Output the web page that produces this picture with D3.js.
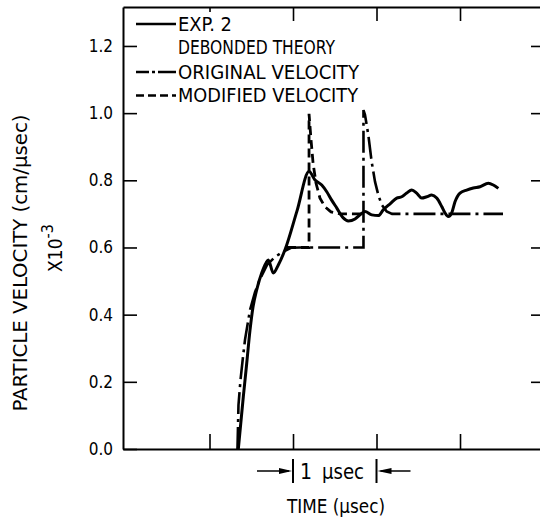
<!DOCTYPE html>
<html><head><meta charset="utf-8">
<script src="https://cdn.jsdelivr.net/npm/d3@7"></script>
<style>body{margin:0;background:#fff}svg{display:block}</style>
</head><body><svg id="c" width="540" height="522"></svg>
<script>
// ---- data (time in µsec, velocity in cm/µsec ×10^-3) ----
const timeTicks = [1, 2, 3, 4];
const velTicks = [0, 0.2, 0.4, 0.6, 0.8, 1.0, 1.2];
const velLabels = ["0.0", "0.2", "0.4", "0.6", "0.8", "1.0", "1.2"];

const expTime = [1.345,1.405,1.446,1.485,1.521,1.565,1.625,1.677,1.704,1.764,1.824,1.904,2.048,2.192,2.263,2.344,2.404,2.463,2.523,2.602,2.662,2.743,2.802,2.862,2.943,3.022,3.081,3.162,3.242,3.302,3.362,3.422,3.481,3.541,3.601,3.661,3.721,3.781,3.820,3.860,3.901,3.940,4.000,4.080,4.159,4.240,4.339,4.399,4.459];
const expVel  = [0.000,0.156,0.256,0.354,0.423,0.474,0.524,0.554,0.563,0.524,0.548,0.593,0.709,0.826,0.801,0.786,0.766,0.741,0.718,0.688,0.679,0.685,0.697,0.707,0.697,0.695,0.712,0.730,0.747,0.751,0.762,0.771,0.762,0.747,0.751,0.756,0.747,0.722,0.703,0.692,0.703,0.736,0.762,0.771,0.777,0.781,0.791,0.786,0.776];

const origTime = [1.335,1.347,1.371,1.401,1.425,1.485,1.545,1.605,1.689,1.784,1.880,1.976,2.084,2.844,2.844,2.862,2.902,2.942,2.982,3.022,3.062,3.122,3.186,4.515];
const origVel  = [0.000,0.131,0.205,0.274,0.325,0.414,0.467,0.506,0.548,0.572,0.587,0.599,0.600,0.600,1.009,0.995,0.935,0.855,0.796,0.756,0.727,0.707,0.700,0.700];

const modTime = [1.928,2.192,2.192,2.216,2.240,2.275,2.323,2.383,2.455,2.563,2.838];
const modVel  = [0.600,0.600,0.998,0.920,0.852,0.792,0.747,0.721,0.706,0.700,0.700];

const legendLabels = ["EXP. 2", "DEBONDED THEORY", "ORIGINAL VELOCITY", "MODIFIED VELOCITY"];

// ---- drawing ----
const FONT = "'Liberation Sans Narrow','DejaVu Sans Condensed','Arial Narrow','DejaVu Sans',sans-serif";
const svg = d3.select("#c");
svg.append("rect").attr("width",540).attr("height",522).attr("fill","#fff");

const x = d3.scaleLinear().domain([-0.036, 4.958]).range([123, 540]);
const y = d3.scaleLinear().domain([0, 1.316]).range([449, 7]);

function styleAxis(g){
  g.selectAll("path.domain").attr("stroke","#000").attr("stroke-width",2);
  g.selectAll(".tick line").attr("stroke","#000").attr("stroke-width",1.6);
  g.selectAll("text").attr("font-family",FONT).attr("font-size",17).attr("fill","#000");
}

// left axis
const gl = svg.append("g").attr("transform","translate(123,0)")
  .call(d3.axisLeft(y).tickValues(velTicks).tickSizeInner(-14).tickSizeOuter(0).tickPadding(10)
    .tickFormat((d,i)=>velLabels[i]));
styleAxis(gl);
// right ticks
const gr = svg.append("g").attr("transform","translate(541,0)")
  .call(d3.axisLeft(y).tickValues(velTicks.slice(1)).tickSize(10).tickFormat(""));
gr.select("path.domain").remove();
styleAxis(gr);
// bottom axis
const gb = svg.append("g").attr("transform","translate(0,449)")
  .call(d3.axisTop(x).tickValues(timeTicks).tickSize(15).tickSizeOuter(0).tickFormat(""));
styleAxis(gb);
// top axis
const gt = svg.append("g").attr("transform","translate(0,7)")
  .call(d3.axisBottom(x).tickValues(timeTicks).tickSize(14).tickSizeOuter(0).tickFormat(""));
gt.selectAll(".tick line").filter(d=>d===1).attr("y2",5);
styleAxis(gt);

// series
const line = d3.line().x(d=>x(d[0])).y(d=>y(d[1]));
const zip = (a,b)=>a.map((v,i)=>[v,b[i]]);
svg.append("path").datum(zip(origTime,origVel)).attr("d",line)
  .attr("fill","none").attr("stroke","#000").attr("stroke-width",2.6)
  .attr("stroke-dasharray","22,5,3,5");
svg.append("path").datum(zip(modTime,modVel)).attr("d",line)
  .attr("fill","none").attr("stroke","#000").attr("stroke-width",2.8)
  .attr("stroke-dasharray","9,5");
svg.append("path").datum(zip(expTime,expVel)).attr("d",d3.line().x(d=>x(d[0])).y(d=>y(d[1])).curve(d3.curveMonotoneX))
  .attr("fill","none").attr("stroke","#000").attr("stroke-width",3).attr("stroke-linejoin","round");

// legend
const lg = svg.append("g");
const rowsY = [24, 47.5, 72, 95.5];
const widths = [54, 157, 181, 180];
const dashes = [null, "none", "13,3,3,3,40", "8,4"];
legendLabels.forEach((t,i)=>{
  if (dashes[i] !== "none") {
    lg.append("line").attr("x1",136).attr("x2",176).attr("y1",rowsY[i]).attr("y2",rowsY[i])
      .attr("stroke","#000").attr("stroke-width",2.6)
      .attr("stroke-dasharray",dashes[i]);
  }
  lg.append("text").attr("x",178).attr("y",rowsY[i]).attr("dy","0.36em")
    .attr("font-family",FONT).attr("font-size",19).attr("fill","#000")
    .attr("textLength",widths[i]).attr("lengthAdjust","spacingAndGlyphs").text(t);
});

// y title
svg.append("text").attr("transform","translate(27,263) rotate(-90)")
  .attr("text-anchor","middle").attr("font-family",FONT).attr("font-size",19)
  .attr("textLength",297).attr("lengthAdjust","spacingAndGlyphs")
  .text("PARTICLE VELOCITY (cm/\u00b5sec)");
const yt2 = svg.append("text").attr("transform","translate(62,248) rotate(-90)")
  .attr("text-anchor","middle").attr("font-family",FONT).attr("font-size",19);
yt2.append("tspan").text("X10");
yt2.append("tspan").attr("dy",-9).attr("font-size",16).text("-3");

// x labels: 1 µsec scale bar
const bx = svg.append("g");
const xa = x(2), xb = x(3), ay = 471;
bx.append("line").attr("x1",xa).attr("x2",xa).attr("y1",459).attr("y2",483).attr("stroke","#000").attr("stroke-width",2);
bx.append("line").attr("x1",xb).attr("x2",xb).attr("y1",459).attr("y2",483).attr("stroke","#000").attr("stroke-width",2);
bx.append("line").attr("x1",xa-36).attr("x2",xa-4).attr("y1",ay).attr("y2",ay).attr("stroke","#000").attr("stroke-width",1.5);
bx.append("path").attr("d",`M${xa-1},${ay} L${xa-14},${ay-3} L${xa-14},${ay+3} Z`).attr("fill","#000");
bx.append("line").attr("x1",xb+4).attr("x2",xb+34).attr("y1",ay).attr("y2",ay).attr("stroke","#000").attr("stroke-width",1.5);
bx.append("path").attr("d",`M${xb+1},${ay} L${xb+15},${ay-3} L${xb+15},${ay+3} Z`).attr("fill","#000");
bx.append("text").attr("x",xa+7).attr("y",479).attr("font-family",FONT).attr("font-size",21).text("1");
bx.append("text").attr("x",xa+29).attr("y",479).attr("font-family",FONT).attr("font-size",21)
  .attr("textLength",42).attr("lengthAdjust","spacingAndGlyphs").text("\u00b5sec");
svg.append("text").attr("x",336).attr("y",513).attr("text-anchor","middle")
  .attr("font-family",FONT).attr("font-size",20)
  .attr("textLength",98).attr("lengthAdjust","spacingAndGlyphs").text("TIME (\u00b5sec)");
</script></body></html>
